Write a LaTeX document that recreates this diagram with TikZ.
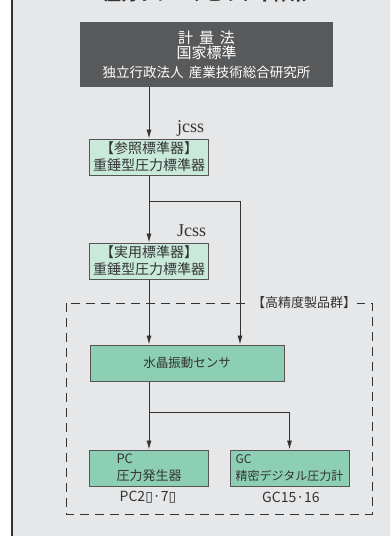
\documentclass[tikz,border=0pt]{standalone}
\usepackage{fontspec}
\setmainfont{Noto Sans CJK JP}
\newfontfamily\serifen{Liberation Serif}
\newfontfamily\djv{DejaVu Sans}
\usetikzlibrary{arrows.meta,calc}
\definecolor{bgc}{HTML}{E6E7E9}
\definecolor{darkbox}{HTML}{58595B}
\definecolor{lightg}{HTML}{C9E9DB}
\definecolor{midg}{HTML}{8DCFB5}
\definecolor{linec}{HTML}{333333}
\definecolor{boxline}{HTML}{555555}
\definecolor{txt}{HTML}{333333}
\begin{document}
\begin{tikzpicture}[x=1pt,y=-1pt,
  box/.style={draw=boxline, line width=1pt, minimum width=119pt, minimum height=36pt, inner sep=0pt, align=center, text=txt},
  lbox/.style={box, fill=lightg, font=\fontsize{14}{17}\selectfont},
  mbox/.style={box, fill=midg, font=\fontsize{13}{17}\selectfont, align=left},
  arr/.style={draw=linec, line width=0.9pt, -{Latex[length=9pt,width=5pt]}},
  lbl/.style={text=txt, inner sep=0pt}
]
\useasboundingbox (0,0) rectangle (390,536);
\clip (0,0) rectangle (390,536);
\fill[white] (0,0) rectangle (13,536);
\fill[bgc] (13,0) rectangle (390,536);
\draw[linec, line width=1.5pt] (12,0) -- (12,536);

% title (cut off at top)
\node[lbl, anchor=base, font=\fontsize{17}{17}\selectfont\bfseries] (title) at (205.5,0) {圧力トレーサビリティ体系};

% top dark box
\node[fill=darkbox, text=white, minimum width=253pt, minimum height=65pt, inner sep=0pt, align=center,
      font=\fontsize{15}{15}\selectfont] (law) at (206.5,54.5)
  {計\hspace{0.4em}量\hspace{0.4em}法\\ 国家標準\\[4pt] \fontsize{13.5}{15}\selectfont 独立行政法人\hspace{0.4em}産業技術総合研究所};

% standards
\node[lbox] (ref) at (149,157) {【参照標準器】\\重錘型圧力標準器};
\node[lbox] (work) at (149,261) {【実用標準器】\\重錘型圧力標準器};

% dashed group
\draw[linec, line width=0.9pt, dash pattern=on 9pt off 6pt] (66,303) rectangle (372,514);
\node[lbl, fill=bgc, inner xsep=1pt, font=\fontsize{13}{13}\selectfont] (grp) at (304,303) {【高精度製品群】};

% sensor and products
\node[box, fill=midg, minimum width=194pt, font=\fontsize{12.5}{12.5}\selectfont] (sens) at (187,363) {水晶振動センサ};
\node[mbox] (pc) at (149,468) {PC\\圧力発生器};
\node[mbox, font=\fontsize{12}{17}\selectfont] (gc) at (289.5,468) {GC\\精密デジタル圧力計};

\node[lbl, font=\fontsize{14}{14}\selectfont] (pcl) at (148,497) {PC2{\djv\fontsize{14}{14}\selectfont ▯}·7{\djv\fontsize{14}{14}\selectfont ▯}};
\node[lbl, font=\fontsize{14}{14}\selectfont] (gcl) at (291,497) {GC15·16};

% labels
\node[lbl, anchor=base west, font=\serifen\fontsize{18}{18}\selectfont] (jcss1) at (177,132) {jcss};
\node[lbl, anchor=base west, font=\serifen\fontsize{18}{18}\selectfont] (jcss2) at (177,236) {Jcss};

% connectors
\coordinate (b1) at (149,201);
\coordinate (b2) at (149,412);
\coordinate (x2) at (240,0);
\draw[arr] (law.south -| ref.north) -- (ref.north);
\draw[arr] (ref.south) -- (work.north);
\draw[arr] (b1) -| (sens.north -| x2);
\draw[arr] (work.south) -- (sens.north -| work.south);
\draw[arr] (sens.south -| pc.north) -- (pc.north);
\draw[arr] (b2) -| (gc.north);
\end{tikzpicture}
\end{document}
